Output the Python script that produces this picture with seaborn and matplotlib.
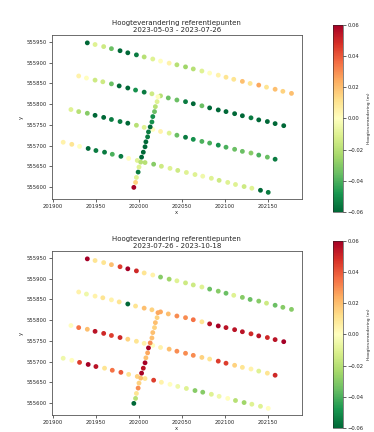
import pandas as pd
import matplotlib
matplotlib.use('Agg')
import matplotlib.pyplot as plt
import seaborn as sns

# Referentiepunten (RD-coordinaten), vier meetlijnen en een dwarsraai
lijn_a_x = [201940, 201949, 201959, 201968, 201978, 201987, 201997, 202006, 202016, 202025, 202035, 202044, 202054,
            202063, 202073, 202082, 202092, 202101, 202110, 202120, 202129, 202139, 202148, 202158, 202167, 202177]
lijn_a_y = [555948, 555944, 555939, 555934, 555929, 555924, 555919, 555914, 555909, 555904, 555899, 555895, 555890,
            555885, 555880, 555875, 555870, 555865, 555860, 555855, 555850, 555846, 555841, 555836, 555831, 555826]

lijn_b_x = [201930, 201939, 201949, 201958, 201968, 201977, 201987, 201996, 202006, 202015, 202025, 202034, 202044,
            202054, 202063, 202073, 202082, 202092, 202101, 202111, 202120, 202130, 202139, 202149, 202158, 202168]
lijn_b_y = [555868, 555863, 555858, 555854, 555849, 555844, 555839, 555834, 555829, 555825, 555820, 555815, 555810,
            555806, 555801, 555796, 555791, 555786, 555782, 555777, 555772, 555767, 555762, 555758, 555753, 555748]

lijn_c_x = [201921, 201930, 201940, 201949, 201959, 201968, 201978, 201987, 201997, 202006, 202016, 202025, 202035,
            202044, 202054, 202063, 202073, 202082, 202092, 202101, 202111, 202120, 202130, 202139, 202149, 202158]
lijn_c_y = [555787, 555782, 555778, 555773, 555768, 555763, 555758, 555754, 555749, 555744, 555739, 555734, 555730,
            555725, 555720, 555715, 555710, 555706, 555701, 555696, 555691, 555686, 555682, 555677, 555672, 555667]

lijn_d_x = [201912, 201922, 201931, 201941, 201950, 201960, 201969, 201979, 201988, 201998, 202007, 202017, 202026,
            202036, 202045, 202055, 202065, 202074, 202084, 202093, 202103, 202112, 202122, 202131, 202141, 202150]
lijn_d_y = [555708, 555703, 555698, 555693, 555688, 555684, 555679, 555674, 555669, 555664, 555659, 555655, 555650,
            555645, 555640, 555635, 555630, 555626, 555621, 555616, 555611, 555606, 555601, 555597, 555592, 555587]

raai_x = [201994, 201996, 201997, 201999, 202000, 202002, 202003, 202005, 202007, 202008,
          202010, 202011, 202013, 202015, 202016, 202018, 202019, 202021, 202022]
raai_y = [555599, 555611, 555623, 555636, 555648, 555660, 555672, 555684, 555697, 555709,
          555721, 555733, 555745, 555757, 555770, 555782, 555794, 555806, 555818]

# hoogteverandering (m) periode 1: 2023-05-03 - 2023-07-26
dh1_a = [-0.06, -0.01, -0.015, -0.035, -0.06, -0.06, -0.055, -0.02, -0.01, 0.0, 0.005, -0.02, -0.025,
         -0.02, -0.01, 0.0, 0.005, 0.01, 0.01, 0.02, 0.01, 0.025, 0.01, 0.02, 0.015, 0.02]
dh1_b = [0.005, 0.0, -0.015, -0.015, -0.035, -0.06, -0.06, -0.05, -0.055, -0.015, -0.02, -0.035, -0.035,
         -0.055, -0.06, -0.035, -0.06, -0.06, -0.06, -0.06, -0.06, -0.055, -0.06, -0.06, -0.06, -0.06]
dh1_c = [-0.01, -0.02, -0.03, -0.06, -0.06, -0.055, -0.055, -0.06, -0.02, -0.01, 0.0, 0.005, -0.01,
         -0.035, -0.055, -0.05, -0.04, -0.04, -0.05, -0.04, -0.035, -0.035, -0.03, -0.04, -0.035, -0.055]
dh1_d = [0.005, 0.01, 0.0, -0.06, -0.055, -0.055, -0.04, -0.055, 0.0, -0.01, -0.02, -0.03, -0.015,
         -0.01, -0.015, -0.01, -0.01, -0.005, -0.01, -0.015, -0.01, -0.01, -0.015, -0.01, -0.06, -0.055]
dh1_raai = [0.06, 0.015, -0.01, -0.055, -0.01, -0.02, -0.06, -0.06, -0.06, -0.06,
            -0.055, -0.055, -0.06, -0.05, -0.05, -0.035, -0.02, -0.01, 0.0]

# hoogteverandering (m) periode 2: 2023-07-26 - 2023-10-18
dh2_a = [0.06, 0.01, 0.01, 0.02, 0.045, 0.06, 0.05, 0.01, 0.005, -0.03, -0.025, -0.01, -0.015,
         -0.015, -0.01, -0.035, -0.03, -0.035, -0.01, -0.03, -0.035, -0.03, -0.015, -0.035, -0.03, -0.03]
dh2_b = [0.005, -0.005, 0.005, 0.01, 0.005, 0.01, -0.06, 0.01, 0.02, 0.015, 0.025, 0.02, 0.03,
         0.03, 0.035, 0.01, 0.055, 0.06, 0.055, 0.055, 0.055, 0.05, 0.055, 0.05, 0.055, 0.06]
dh2_c = [0.0, 0.035, 0.02, 0.055, 0.05, 0.045, 0.05, 0.015, 0.01, 0.005, 0.0, 0.005, 0.02,
         0.03, 0.03, 0.03, 0.015, 0.01, 0.045, 0.045, 0.015, 0.01, 0.005, -0.01, 0.01, 0.05]
dh2_d = [-0.005, 0.0, 0.045, 0.06, 0.055, 0.01, 0.035, 0.04, 0.01, 0.015, 0.01, 0.045, 0.005,
         0.0, -0.005, -0.01, -0.03, -0.03, -0.01, -0.005, 0.0, -0.02, -0.025, -0.01, -0.01, 0.0]
dh2_raai = [-0.06, -0.02, 0.01, 0.03, 0.015, 0.02, 0.06, 0.055, 0.06, 0.02,
            0.025, 0.06, 0.03, 0.02, 0.02, 0.015, 0.02, 0.015, 0.025]

periodes = ['2023-05-03 - 2023-07-26', '2023-07-26 - 2023-10-18']

x_all = lijn_a_x + lijn_b_x + lijn_c_x + lijn_d_x + raai_x
y_all = lijn_a_y + lijn_b_y + lijn_c_y + lijn_d_y + raai_y
df1 = pd.DataFrame({'x': x_all, 'y': y_all, 'dh': dh1_a + dh1_b + dh1_c + dh1_d + dh1_raai})
df2 = pd.DataFrame({'x': x_all, 'y': y_all, 'dh': dh2_a + dh2_b + dh2_c + dh2_d + dh2_raai})

sns.set_style('ticks')
plt.rcParams['font.family'] = ['DejaVu Sans']

fig = plt.figure(figsize=(3.74, 4.32), dpi=100)
ax_pos = [[0.139, 0.5394, 0.668, 0.3796], [0.139, 0.0394, 0.668, 0.3796]]
cb_pos = [[0.890, 0.5093, 0.0267, 0.4329], [0.890, 0.0093, 0.0267, 0.4329]]

norm = plt.Normalize(-0.06, 0.06)
for i, df in enumerate([df1, df2]):
    ax = fig.add_axes(ax_pos[i])
    sns.scatterplot(data=df, x='x', y='y', hue='dh', palette='RdYlGn_r', hue_norm=(-0.06, 0.06),
                    s=12, linewidth=0, legend=False, ax=ax)
    ax.set_xlim(201899, 202189)
    ax.set_ylim(555571, 555967)
    ax.set_xticks(range(201900, 202151, 50))
    ax.set_yticks(range(555600, 555951, 50))
    ax.ticklabel_format(useOffset=False, style='plain')
    ax.tick_params(labelsize=3.8, length=2, width=0.5, pad=1.5)
    ax.set_xlabel('x', fontsize=3.8, labelpad=1)
    ax.set_ylabel('y', fontsize=3.8, labelpad=2)
    for sp in ax.spines.values():
        sp.set_linewidth(0.6)
        sp.set_color('#555555')
    ax.set_title('Hoogteverandering referentiepunten\n' + periodes[i], fontsize=5, pad=2.5, linespacing=1.1)

    cax = fig.add_axes(cb_pos[i])
    sm = plt.cm.ScalarMappable(cmap='RdYlGn_r', norm=norm)
    cb = fig.colorbar(sm, cax=cax)
    cb.set_ticks([-0.06, -0.04, -0.02, 0.0, 0.02, 0.04, 0.06])
    cb.ax.tick_params(labelsize=3.8, length=2, width=0.5, pad=1.5)
    cb.outline.set_linewidth(0.4)
    cb.set_label('Hoogteverandering (m)', fontsize=3.2, labelpad=2)

fig.savefig('out.png', dpi=100)
